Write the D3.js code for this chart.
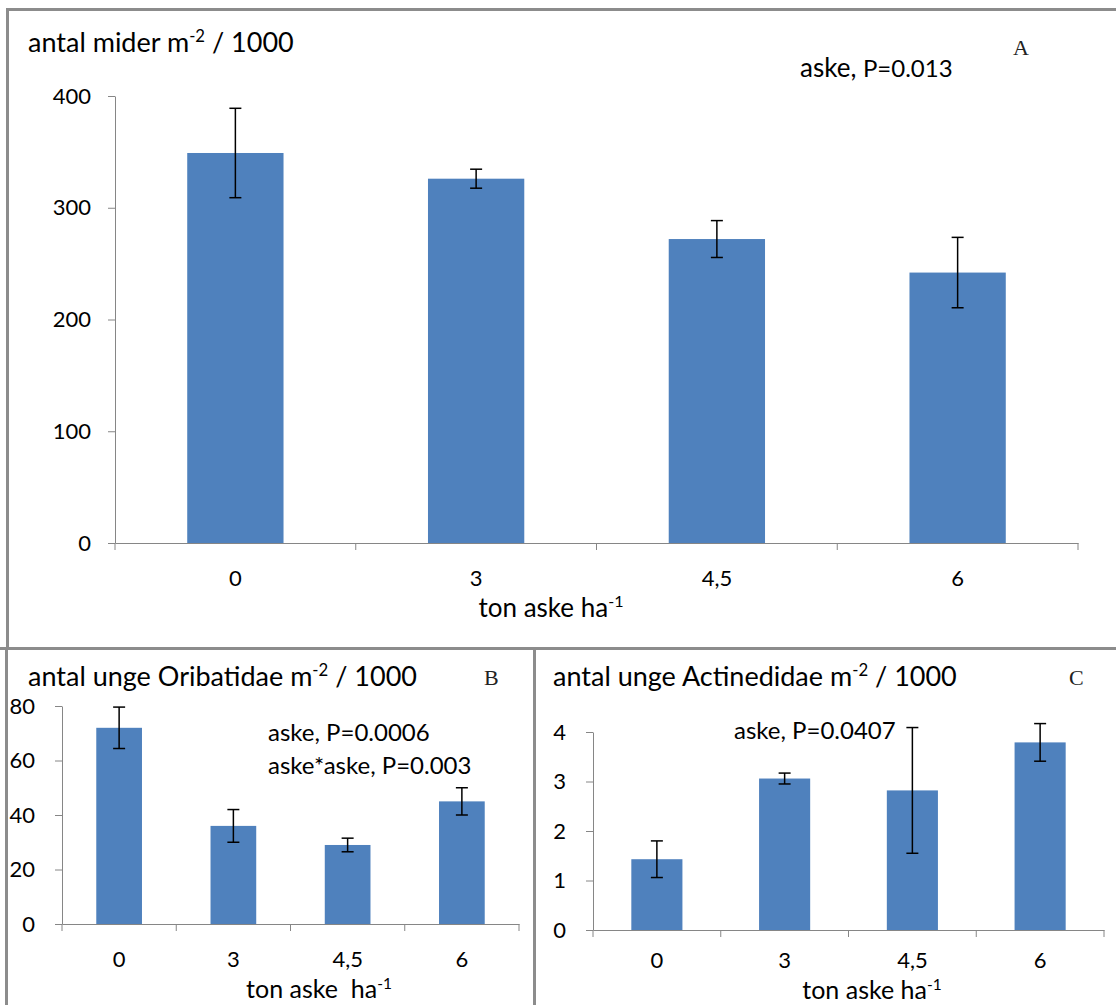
<!DOCTYPE html>
<html>
<head>
<meta charset="utf-8">
<script src="https://cdn.jsdelivr.net/npm/d3@7"></script>
<style>
  body { margin: 0; background: #fff; }
  svg { display: block; }
  text { font-family: Lato, "Open Sans", sans-serif; fill: #000; white-space: pre; }
  text.letter { font-family: "Liberation Serif", "DejaVu Serif", serif; fill: #222; }
</style>
</head>
<body>
<svg id="fig" width="1116" height="1005"></svg>
<script>
// Ash dose (ton aske ha-1) for every panel
const doses = ["0", "3", "4,5", "6"];

// A: total mites (antal mider m-2 / 1000)
const miderMean = [349, 326, 272, 242];
const miderErr = [40, 8.5, 16.5, 31.5];
const miderTicks = [0, 100, 200, 300, 400];

// B: juvenile Oribatidae
const oribMean = [72, 36, 29, 45];
const oribErr = [7.6, 6, 2.5, 5];
const oribTicks = [0, 20, 40, 60, 80];

// C: juvenile Actinedidae
const actinMean = [1.43, 3.06, 2.82, 3.79];
const actinErr = [0.37, 0.11, 1.27, 0.38];
const actinTicks = [0, 1, 2, 3, 4];

const BAR = "#4F81BD";
const AXIS = "#868686";
const FRAME = "#8c8c8c";

const svg = d3.select("#fig");

// text with superscript parts: parts = [[text, isSup], ...]
function richText(g, x, y, size, parts, anchor) {
  const t = g.append("text").attr("x", x).attr("y", y)
    .attr("font-size", size).attr("text-anchor", anchor || "start");
  let raised = false;
  parts.forEach(([s, sup]) => {
    const ts = t.append("tspan").text(s);
    if (sup) {
      ts.attr("font-size", size * 0.62).attr("dy", -size * 0.38);
      raised = true;
    } else if (raised) {
      ts.attr("dy", size * 0.38);
      raised = false;
    }
  });
  return t;
}

function barPanel(p) {
  const g = svg.append("g");
  const x = d3.scaleBand().domain(doses).range([p.x0, p.x1])
    .paddingInner(0.6).paddingOuter(0.3);
  const y = d3.scaleLinear().domain([0, p.ticks[p.ticks.length - 1]]).range([p.y0, p.yTop]);

  // bars
  g.selectAll("rect.bar").data(p.mean).join("rect")
    .attr("class", "bar")
    .attr("x", (d, i) => x(doses[i]))
    .attr("y", d => y(d))
    .attr("width", x.bandwidth())
    .attr("height", d => y(0) - y(d))
    .attr("fill", BAR);

  // y axis
  const ya = g.append("g").attr("transform", `translate(${p.x0},0)`)
    .call(d3.axisLeft(y).tickValues(p.ticks).tickSize(p.tick).tickSizeOuter(0)
      .tickPadding(p.yPad).tickFormat(d3.format("d")));
  ya.selectAll("path, line").attr("stroke", AXIS);
  ya.selectAll("text").attr("font-size", p.tickFont).attr("fill", "#000");

  // x axis: labels centred on bars, tick marks between categories
  const xa = g.append("g").attr("transform", `translate(0,${p.y0})`)
    .call(d3.axisBottom(x).tickSize(0).tickSizeOuter(0).tickPadding(p.xPad));
  xa.select(".domain").attr("stroke", AXIS);
  xa.selectAll("text").attr("font-size", p.tickFont).attr("fill", "#000");
  const half = (x.step() - x.bandwidth()) / 2;
  const bounds = doses.map(d => x(d) - half).concat([x(doses[doses.length - 1]) - half + x.step()]);
  g.selectAll("line.xt").data(bounds).join("line")
    .attr("class", "xt")
    .attr("x1", d => d).attr("x2", d => d)
    .attr("y1", p.y0).attr("y2", p.y0 + p.tick)
    .attr("stroke", AXIS);

  // error bars
  const cx = i => x(doses[i]) + x.bandwidth() / 2;
  const eb = g.append("g").attr("stroke", "#000").attr("stroke-width", 1.5);
  p.mean.forEach((m, i) => {
    const hi = y(m + p.err[i]), lo = y(m - p.err[i]);
    eb.append("line").attr("x1", cx(i)).attr("x2", cx(i)).attr("y1", hi).attr("y2", lo);
    eb.append("line").attr("x1", cx(i) - 6).attr("x2", cx(i) + 6).attr("y1", hi).attr("y2", hi);
    eb.append("line").attr("x1", cx(i) - 6).attr("x2", cx(i) + 6).attr("y1", lo).attr("y2", lo);
  });

  // titles and notes
  richText(g, p.titleX, p.titleY, p.titleFont, p.title);
  richText(g, p.xTitleX, p.xTitleY, p.xTitleFont, p.xTitle, "middle");
  g.append("text").attr("class", "letter").attr("x", p.letterX).attr("y", p.letterY)
    .attr("font-size", 22).text(p.letter);
  (p.notes || []).forEach(n => {
    const t = g.append("text").attr("x", n.x).attr("y", n.y).attr("font-size", n.size);
    n.parts.forEach(([s, sz]) => t.append("tspan").attr("font-size", sz || n.size).text(s));
  });
}

barPanel({
  x0: 115, x1: 1078, y0: 543, yTop: 96,
  ticks: miderTicks, mean: miderMean, err: miderErr,
  tick: 7, yPad: 17, xPad: 27, tickFont: 22,
  title: [["antal mider m"], ["-2", true], [" / 1000"]],
  titleX: 28, titleY: 52, titleFont: 27,
  xTitle: [["ton aske ha"], ["-1", true]], xTitleX: 551, xTitleY: 617, xTitleFont: 26,
  letter: "A", letterX: 1013, letterY: 55,
  notes: [{ x: 800, y: 77, size: 26, parts: [["aske, "], ["P=0.013", 24]] }]
});

barPanel({
  x0: 62, x1: 519, y0: 924, yTop: 706,
  ticks: oribTicks, mean: oribMean, err: oribErr,
  tick: 7, yPad: 20, xPad: 27, tickFont: 22,
  title: [["antal unge Oribatidae m"], ["-2", true], [" / 1000"]],
  titleX: 28, titleY: 686, titleFont: 27,
  xTitle: [["ton aske  ha"], ["-1", true]], xTitleX: 319, xTitleY: 998, xTitleFont: 25,
  letter: "B", letterX: 484, letterY: 685,
  notes: [
    { x: 268, y: 741, size: 24, parts: [["aske, P=0.0006"]] },
    { x: 268, y: 774, size: 24, parts: [["aske*aske, P=0.003"]] }
  ]
});

barPanel({
  x0: 593, x1: 1104, y0: 930, yTop: 732,
  ticks: actinTicks, mean: actinMean, err: actinErr,
  tick: 7, yPad: 20, xPad: 22, tickFont: 22,
  title: [["antal unge Actinedidae m"], ["-2", true], [" / 1000"]],
  titleX: 553, titleY: 686, titleFont: 27,
  xTitle: [["ton aske ha"], ["-1", true]], xTitleX: 872, xTitleY: 999, xTitleFont: 25,
  letter: "C", letterX: 1069, letterY: 685,
  notes: [{ x: 734, y: 739, size: 24, parts: [["aske, P=0.0407"]] }]
});

// panel frames
const fr = svg.append("g").attr("stroke", FRAME).attr("stroke-width", 3).attr("fill", "none");
fr.append("path").attr("d", "M1116,9.5H7.5V648");
fr.append("path").attr("d", "M0,648.5H1116");
fr.append("path").attr("d", "M6.5,648V1005");
fr.append("path").attr("d", "M534.5,648V1005");
</script>
</body>
</html>
